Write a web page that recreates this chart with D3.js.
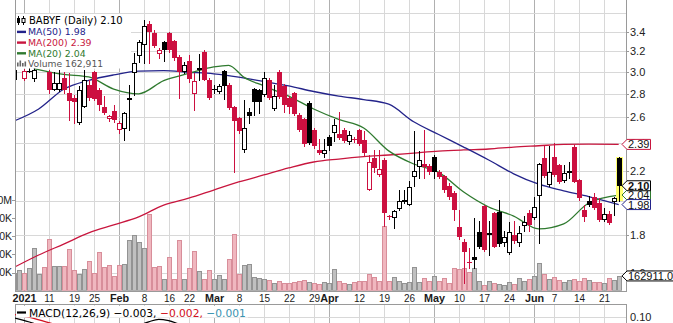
<!DOCTYPE html>
<html><head><meta charset="utf-8">
<script src="https://cdn.jsdelivr.net/npm/d3@7/dist/d3.min.js"></script>
<style>html,body{margin:0;padding:0;background:#fff;}svg{display:block;}</style>
</head><body>
<svg id="chart" width="673" height="323"></svg>
<script>
// ---------------- DATA ----------------
const ticker = "BABYF";
const dates = ["12/30","12/31",
"1/4","1/5","1/6","1/7","1/8","1/11","1/12","1/13","1/14","1/15","1/19","1/20","1/21","1/22","1/25","1/26","1/27","1/28","1/29",
"2/1","2/2","2/3","2/4","2/5","2/8","2/9","2/10","2/11","2/12","2/16","2/17","2/18","2/19","2/22","2/23","2/24","2/25","2/26",
"3/1","3/2","3/3","3/4","3/5","3/8","3/9","3/10","3/11","3/12","3/15","3/16","3/17","3/18","3/19","3/22","3/23","3/24","3/25","3/26","3/29","3/30","3/31",
"4/1","4/5","4/6","4/7","4/8","4/9","4/12","4/13","4/14","4/15","4/16","4/19","4/20","4/21","4/22","4/23","4/26","4/27","4/28","4/29","4/30",
"5/3","5/4","5/5","5/6","5/7","5/10","5/11","5/12","5/13","5/14","5/17","5/18","5/19","5/20","5/21","5/24","5/25","5/26","5/27","5/28",
"6/1","6/2","6/3","6/4","6/7","6/8","6/9","6/10","6/11","6/14","6/15","6/16","6/17","6/18","6/21","6/22","6/23","6/24"];

const openP = [2.92,3.055,2.935,3.01,2.93,3.045,3.13,3.00,2.835,2.835,
2.94,2.81,2.76,2.555,2.69,2.88,2.995,2.835,2.69,2.59,
2.65,2.50,2.51,2.745,2.99,3.15,3.265,3.48,3.39,3.17,
3.29,3.39,3.30,3.14,2.995,3.10,2.80,3.035,3.19,2.92,
2.845,2.82,3.005,2.88,2.685,2.595,2.345,2.645,2.84,2.833,
2.79,2.925,2.67,2.995,2.87,2.76,2.805,2.62,2.59,2.72,
2.50,2.35,2.32,2.445,2.475,2.47,2.50,2.405,2.43,2.50,
2.425,2.075,2.29,2.17,2.276,1.91,1.898,1.953,2.00,1.98,
2.158,2.227,2.25,2.236,2.298,2.19,2.163,2.10,2.053,1.848,
1.763,1.656,1.682,1.82,1.97,1.80,1.927,1.936,1.754,1.70,
1.80,1.755,1.852,1.927,1.897,2.033,2.29,2.105,2.30,2.241,
2.133,2.20,2.37,2.135,1.947,2.00,2.027,1.987,1.887,1.92,
1.998,2.29];
const highP = [3.03,3.14,3.03,3.035,3.045,3.16,3.16,3.02,3.00,3.02,
3.00,2.99,2.79,2.87,3.02,2.92,3.005,2.85,2.78,2.62,
2.70,2.57,2.645,2.88,3.18,3.31,3.53,3.52,3.42,3.23,
3.30,3.40,3.31,3.16,3.09,3.16,2.99,3.175,3.21,2.94,
2.88,2.885,3.02,2.895,2.695,2.605,2.75,2.68,2.85,2.84,
2.995,2.94,2.88,3.02,2.885,2.78,2.815,2.635,2.595,2.735,
2.515,2.43,2.43,2.465,2.585,2.645,2.515,2.49,2.445,2.505,
2.49,2.315,2.35,2.35,2.29,1.915,1.947,2.072,2.07,2.13,
2.49,2.34,2.50,2.25,2.315,2.205,2.172,2.12,2.066,1.947,
1.78,1.729,1.90,1.88,1.977,1.88,1.935,2.008,1.823,1.875,
1.88,1.852,1.908,1.949,2.03,2.255,2.375,2.375,2.40,2.248,
2.241,2.262,2.385,2.145,1.977,2.033,2.053,2.02,1.96,1.94,
2.027,2.30];
const lowP = [2.91,3.045,2.92,3.00,2.91,3.04,3.055,2.81,2.83,2.825,
2.81,2.58,2.555,2.55,2.685,2.745,2.745,2.66,2.63,2.57,
2.565,2.48,2.42,2.50,2.79,3.09,3.08,3.08,3.24,3.13,
3.10,3.19,3.11,2.76,2.985,2.905,2.665,2.925,2.92,2.755,
2.81,2.81,2.755,2.67,2.19,2.48,2.335,2.555,2.62,2.635,
2.78,2.755,2.66,2.765,2.645,2.635,2.62,2.49,2.375,2.395,
2.36,2.32,2.30,2.35,2.415,2.43,2.41,2.39,2.41,2.385,
2.31,2.072,2.19,2.165,1.852,1.895,1.84,1.947,1.99,1.977,
2.10,2.15,2.15,2.18,2.15,2.15,2.06,2.015,1.887,1.78,
1.55,1.623,1.623,1.728,1.715,1.69,1.733,1.74,1.74,1.695,
1.756,1.74,1.823,1.823,1.89,1.757,2.158,2.098,2.165,2.118,
2.125,2.15,2.125,2.008,1.88,1.97,1.95,1.88,1.88,1.864,
1.916,2.00];
const closeP = [3.02,3.11,3.01,3.01,3.02,3.13,3.07,2.83,2.895,2.895,
2.83,2.735,2.73,2.835,2.925,2.76,2.755,2.705,2.635,2.61,
2.58,2.555,2.635,2.76,3.08,3.29,3.465,3.40,3.25,3.21,
3.215,3.21,3.13,2.995,3.065,2.93,2.91,3.02,2.925,2.76,
2.84,2.865,2.865,2.68,2.575,2.49,2.515,2.61,2.725,2.73,
2.94,2.76,2.78,2.775,2.70,2.69,2.63,2.50,2.395,2.40,
2.375,2.325,2.35,2.375,2.54,2.44,2.415,2.465,2.42,2.395,
2.325,2.265,2.22,2.215,1.93,1.903,1.94,2.002,2.01,2.092,
2.197,2.274,2.227,2.19,2.19,2.158,2.07,2.027,1.949,1.787,
1.709,1.649,1.665,1.733,1.718,1.812,1.736,1.749,1.787,1.82,
1.768,1.81,1.877,1.858,1.967,2.248,2.165,2.195,2.172,2.127,
2.183,2.183,2.128,2.018,1.905,1.977,1.957,1.887,1.92,1.871,
2.018,2.10];
const volume = [200000,223000,194000,250000,474000,187000,261000,574000,268000,276000,
268000,455000,231000,187000,239000,332000,194000,429000,261000,287000,
164000,287000,290000,560000,614000,533000,466000,849000,265000,272000,
131000,373000,131000,563000,131000,253000,440000,216000,131000,224000,
131000,168000,131000,354000,626000,179000,283000,298000,149000,140000,
130000,120000,80000,110000,83000,90000,100000,110000,120000,95000,
85000,75000,100000,90000,235000,110000,85000,70000,100000,110000,
110000,180000,150000,110000,719000,110000,150000,110000,85000,95000,
265000,95000,140000,110000,160000,110000,140000,85000,253000,235000,
253000,205000,253000,110000,65000,110000,80000,75000,60000,95000,
70000,140000,110000,130000,160000,310000,180000,130000,150000,120000,
100000,120000,130000,110000,140000,120000,100000,95000,90000,140000,
120000,162911];

const maDates = ["12/30","1/7","1/14","1/22","1/29","2/5","2/12","2/22","3/1","3/8","3/15","3/22","3/29","4/6","4/13","4/20","4/27","5/4","5/11","5/18","5/25","6/2","6/9","6/16","6/24"];
const ma50  = [2.57,2.67,2.84,2.92,2.97,3.005,3.01,2.995,2.98,2.95,2.91,2.87,2.82,2.78,2.75,2.71,2.565,2.465,2.37,2.276,2.18,2.11,2.067,2.03,1.98];
const ma200 = [1.626,1.691,1.75,1.812,1.858,1.905,1.977,2.02,2.072,2.125,2.172,2.22,2.262,2.283,2.30,2.312,2.326,2.34,2.349,2.356,2.37,2.38,2.39,2.392,2.39];
const ma20Dates = ["1/6","1/14","1/22","1/29","2/5","2/12","2/22","3/1","3/4","3/9","3/15","3/22","3/29","4/6","4/13","4/20","4/27","5/4","5/11","5/18","5/25","6/2","6/9","6/16","6/24"];
const ma20 = [3.03,2.975,2.951,2.842,2.80,2.918,2.984,3.045,3.06,2.95,2.87,2.78,2.67,2.584,2.516,2.342,2.248,2.19,2.059,1.965,1.91,1.835,1.864,1.99,2.04];

const macdDates = ["12/30","1/4","1/6","1/11","1/19","1/26","2/2","2/5","2/9","2/11","2/16","2/18","2/23","3/3","3/17","3/31","4/15","4/29","5/13","5/27","6/11","6/24"];
const macdLine   = [0.0975,0.091,0.0835,0.073,0.058,0.052,0.06,0.078,0.087,0.0935,0.09,0.082,0.07,0.05,0.02,-0.015,-0.03,-0.045,-0.08,-0.06,-0.005,-0.003];
const macdSignal = [0.106,0.101,0.096,0.085,0.072,0.064,0.062,0.064,0.067,0.07,0.073,0.075,0.074,0.065,0.04,0.005,-0.02,-0.035,-0.06,-0.06,-0.02,-0.002];
const macdHistLast = -0.001;

const tickDates  = ["1/4","1/11","1/19","1/25","2/1","2/8","2/16","2/22","3/1","3/8","3/15","3/22","3/29","4/1","4/12","4/19","4/26","5/3","5/10","5/17","5/24","6/1","6/7","6/14","6/21"];
const tickLabels = ["2021","11","19","25","Feb","8","16","22","Mar","8","15","22","29","Apr","12","19","26","May","10","17","24","Jun","7","14","21"];
const majorLabels = ["2021","Feb","Mar","Apr","May","Jun"];
const priceGrid = [1.6,1.8,2.0,2.2,2.4,2.6,2.8,3.0,3.2,3.4,3.6];
const priceLabels = [1.6,1.8,2.0,2.2,2.4,2.6,2.8,3.0,3.2,3.4,3.8];
const volTicks = [200000,400000,600000,800000,1000000];
const macdTicks = [0.10];

// ---------------- CHART ----------------
const RED = "#cc1040", BLACK = "#000";
const C50 = "#23238a", C200 = "#c8163e", C20 = "#2f7a2f";
const GRID = "#d8d8d8", GRID2 = "#b0b0b0", BORDER = "#9a9a9a";
const AX = "Liberation Sans, Arial, sans-serif", LG = "DejaVu Sans, Verdana, sans-serif";

const svg = d3.select("#chart");
const PL = 15, PR = 626, PB = 290.7, MT = 304, MB = 323;

const x = d3.scalePoint().domain(dates).range([13.7, 618.7]);
const y = d3.scaleLog().domain([1.6, 3.4]).range([272.7, 31.7]);
const yv = d3.scaleLinear().domain([0, 1e6]).range([PB, 200.1]);
const ym = d3.scaleLinear().domain([0, 0.1]).range([356.7, 316.7]);
const cx = d => Math.round(x(d));
const f2 = d3.format(".2f");

const defs = svg.append("defs");
defs.append("clipPath").attr("id","cp").append("rect").attr("x",PL).attr("y",0).attr("width",PR-PL).attr("height",PB);
defs.append("clipPath").attr("id","cm").append("rect").attr("x",PL).attr("y",MT).attr("width",PR-PL).attr("height",MB-MT);

// grid
const grid = svg.append("g").attr("shape-rendering","crispEdges");
tickDates.forEach((d,k)=>{
  const xx = cx(d)+0.5;
  const col = majorLabels.includes(tickLabels[k]) ? GRID2 : GRID;
  grid.append("line").attr("x1",xx).attr("x2",xx).attr("y1",0).attr("y2",PB).attr("stroke",col);
  grid.append("line").attr("x1",xx).attr("x2",xx).attr("y1",MT).attr("y2",MB).attr("stroke",col);
});
priceGrid.forEach(p=>{
  const yy = Math.round(y(p))+0.5;
  grid.append("line").attr("x1",PL).attr("x2",PR).attr("y1",yy).attr("y2",yy).attr("stroke",GRID);
});
macdTicks.forEach(v=>{
  const yy = Math.round(ym(v))+0.5;
  grid.append("line").attr("x1",PL).attr("x2",PR).attr("y1",yy).attr("y2",yy).attr("stroke",GRID);
});

// volume bars
const up = closeP.map((c,i)=> i===0 ? true : c >= closeP[i-1]);
const vg = svg.append("g").attr("clip-path","url(#cp)").attr("shape-rendering","crispEdges");
volume.forEach((v,i)=>{
  const top = Math.round(yv(v));
  vg.append("rect").attr("x",cx(dates[i])-1.5).attr("y",top+0.5)
    .attr("width",4).attr("height",Math.max(PB-top-1,0))
    .attr("fill", up[i] ? "#c0c0c0" : "#f0b7bf")
    .attr("stroke", up[i] ? "#939393" : "#d88e9a");
});

// MA lines
const lg = d3.line().x(d=>x(d[0])).y(d=>y(d[1])).curve(d3.curveMonotoneX);
const mag = svg.append("g").attr("clip-path","url(#cp)").attr("fill","none").attr("stroke-width",1.3);
mag.append("path").attr("d", lg(d3.zip(maDates, ma200))).attr("stroke",C200);
mag.append("path").attr("d", lg(d3.zip(maDates, ma50))).attr("stroke",C50);
mag.append("path").attr("d", lg(d3.zip(ma20Dates, ma20))).attr("stroke",C20);

// candles
const cg = svg.append("g").attr("clip-path","url(#cp)").attr("shape-rendering","crispEdges");
const last = dates.length-1;
cg.append("rect").attr("x",cx(dates[last])-3).attr("y",y(highP[last]))
  .attr("width",7).attr("height",y(lowP[last])-y(highP[last])).attr("fill","#ffff70");
dates.forEach((d,i)=>{
  const c = up[i] ? BLACK : RED;
  const xc = cx(d);
  cg.append("line").attr("x1",xc+0.5).attr("x2",xc+0.5)
    .attr("y1",Math.round(y(highP[i]))).attr("y2",Math.round(y(lowP[i]))+1).attr("stroke",c);
  const o = openP[i], cl = closeP[i];
  const top = Math.round(y(Math.max(o,cl))), bot = Math.round(y(Math.min(o,cl)));
  if (bot - top < 1) {
    cg.append("line").attr("x1",xc-2).attr("x2",xc+3).attr("y1",top+0.5).attr("y2",top+0.5).attr("stroke",c);
  } else if (cl > o) {
    cg.append("rect").attr("x",xc-1.5).attr("y",top+0.5).attr("width",4).attr("height",Math.max(bot-top-1,1))
      .attr("fill","#fff").attr("stroke",c);
  } else {
    cg.append("rect").attr("x",xc-2).attr("y",top).attr("width",5).attr("height",bot-top).attr("fill",c);
  }
});

// legend box (price panel)
const leg = svg.append("g");
leg.append("rect").attr("x",16).attr("y",14).attr("width",115).attr("height",54.5).attr("fill","#fff");
leg.append("line").attr("x1",18.5).attr("x2",18.5).attr("y1",16).attr("y2",25).attr("stroke","#000");
leg.append("rect").attr("x",17).attr("y",18).attr("width",3).attr("height",5).attr("fill","#000");
leg.append("line").attr("x1",23.5).attr("x2",23.5).attr("y1",16).attr("y2",25).attr("stroke","#000");
leg.append("rect").attr("x",22).attr("y",18.5).attr("width",3).attr("height",4).attr("fill","#fff").attr("stroke","#000");
leg.append("text").attr("x",29).attr("y",24).attr("font-family",LG).attr("font-size",10).attr("fill","#000")
  .text(`${ticker} (Daily) ${f2(closeP[last])}`);
const rows = [
  {t:`MA(50) ${f2(ma50[ma50.length-1])}`, c:C50},
  {t:`MA(200) ${f2(ma200[ma200.length-1])}`, c:C200},
  {t:`MA(20) ${f2(ma20[ma20.length-1])}`, c:C20}
];
rows.forEach((r,k)=>{
  const yy = 35.2 + k*10.7;
  leg.append("line").attr("x1",17).attr("x2",26).attr("y1",yy-3.3).attr("y2",yy-3.3).attr("stroke",r.c).attr("stroke-width",2.4);
  leg.append("text").attr("x",28).attr("y",yy).attr("font-family",LG).attr("font-size",9.4).attr("fill",r.c).text(r.t);
});
[[17,4],[19.5,6],[22,3.5],[24.5,5]].forEach(b=>{
  leg.append("rect").attr("x",b[0]).attr("y",66.5-b[1]).attr("width",1.6).attr("height",b[1]).attr("fill","#666");
});
leg.append("text").attr("x",28).attr("y",67.2).attr("font-family",LG).attr("font-size",9.2).attr("fill","#555")
  .text(`Volume ${d3.format(",")(volume[last])}`);

// borders
const bd = svg.append("g").attr("stroke",BORDER).attr("shape-rendering","crispEdges");
bd.append("line").attr("x1",PL+0.5).attr("x2",PL+0.5).attr("y1",0).attr("y2",PB);
bd.append("line").attr("x1",PR+0.5).attr("x2",PR+0.5).attr("y1",0).attr("y2",PB);
bd.append("line").attr("x1",PL).attr("x2",PR+1).attr("y1",Math.round(PB)+0.5).attr("y2",Math.round(PB)+0.5);
bd.append("line").attr("x1",PL).attr("x2",PR+1).attr("y1",MT+0.5).attr("y2",MT+0.5);
bd.append("line").attr("x1",PL+0.5).attr("x2",PL+0.5).attr("y1",MT).attr("y2",MB);
bd.append("line").attr("x1",PR+0.5).attr("x2",PR+0.5).attr("y1",MT).attr("y2",MB);

// right price axis
const ra = svg.append("g");
priceLabels.forEach(p=>{
  const yy = y(p);
  ra.append("line").attr("x1",PR).attr("x2",PR+3).attr("y1",Math.round(yy)+0.5).attr("y2",Math.round(yy)+0.5).attr("stroke",BORDER);
  ra.append("text").attr("x",630).attr("y",yy).attr("dy","0.36em").attr("font-family",AX).attr("font-size",11).attr("fill","#222")
    .text(d3.format(".1f")(p));
});
macdTicks.forEach(v=>{
  ra.append("text").attr("x",630).attr("y",ym(v)).attr("dy","0.36em").attr("font-family",AX).attr("font-size",11).attr("fill","#222")
    .text(d3.format(".2f")(v));
});

// left volume axis
const la = svg.append("g");
volTicks.forEach(v=>{
  const yy = yv(v);
  la.append("line").attr("x1",12).attr("x2",PL).attr("y1",Math.round(yy)+0.5).attr("y2",Math.round(yy)+0.5).attr("stroke",BORDER);
  la.append("text").attr("x",12).attr("y",yy).attr("dy","0.36em").attr("text-anchor","end")
    .attr("font-family",AX).attr("font-size",10.5).attr("fill","#222")
    .text(v>=1e6 ? d3.format(".1f")(v/1e6)+"M" : (v/1000)+"K");
});

// x axis labels
const xa = svg.append("g");
tickDates.forEach((d,k)=>{
  const major = majorLabels.includes(tickLabels[k]);
  xa.append("text").attr("x",cx(d)+0.5).attr("y",302).attr("text-anchor","middle")
    .attr("font-family",AX).attr("font-size",major?10.8:10).attr("font-weight",major?"bold":"normal").attr("fill","#1a1a1a")
    .text(tickLabels[k]);
});

// value tags on right
function tag(yc, txt, col, bold, x1){
  const g = svg.append("g");
  const h = 5;
  g.append("path").attr("d",`M622,${yc}L627,${yc-h}L${x1},${yc-h}L${x1},${yc+h}L627,${yc+h}Z`)
    .attr("fill","#fff").attr("stroke",col).attr("stroke-width",1);
  g.append("text").attr("x",628).attr("y",yc).attr("dy","0.36em").attr("font-family",AX).attr("font-size",11)
    .attr("font-weight",bold?"bold":"normal").attr("fill","#111").text(txt);
}
tag(y(ma200[ma200.length-1]), f2(ma200[ma200.length-1]), C200, false, 650.5);
tag(y(ma20[ma20.length-1]), f2(ma20[ma20.length-1]), C20, false, 650.5);
tag(y(ma50[ma50.length-1]), f2(ma50[ma50.length-1]), C50, false, 650.5);
tag(y(closeP[last]), f2(closeP[last]), "#000", true, 650.5);
tag(yv(volume[last]), d3.format(".1f")(volume[last]), "#000", false, 700);

// MACD panel
const mg = svg.append("g").attr("clip-path","url(#cm)").attr("fill","none").attr("stroke-width",1.2);
const ml = d3.line().x(d=>x(d[0])).y(d=>ym(d[1])).curve(d3.curveMonotoneX);
mg.append("path").attr("d", ml(d3.zip(macdDates, macdSignal))).attr("stroke","#d01020");
mg.append("path").attr("d", ml(d3.zip(macdDates, macdLine))).attr("stroke","#000");
const ml2 = svg.append("g");
ml2.append("rect").attr("x",16).attr("y",306).attr("width",232).attr("height",11.5).attr("fill","#fff");
ml2.append("line").attr("x1",17).attr("x2",26).attr("y1",312.5).attr("y2",312.5).attr("stroke","#000").attr("stroke-width",2.2);
const mt = ml2.append("text").attr("x",29).attr("y",316.5).attr("font-family",LG).attr("font-size",10.7);
const fm = d3.format(".3f");
mt.append("tspan").attr("fill","#000").text(`MACD(12,26,9) ${fm(macdLine[macdLine.length-1])}, `);
mt.append("tspan").attr("fill","#d01020").text(`${fm(macdSignal[macdSignal.length-1])}, `);
mt.append("tspan").attr("fill","#3a93b0").text(fm(macdHistLast));
</script>
</body></html>
